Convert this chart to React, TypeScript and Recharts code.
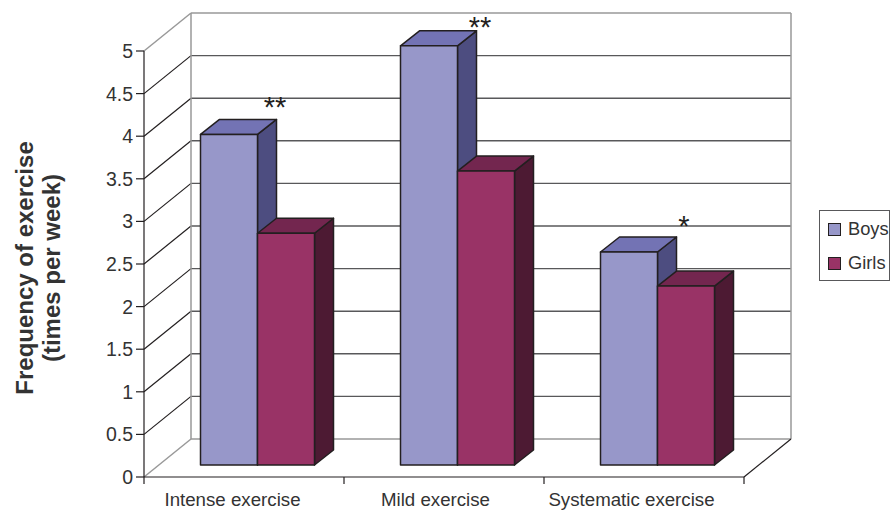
import { BarChart, Bar, XAxis, YAxis, CartesianGrid, Legend, LabelList, Customized } from "recharts";

const categories = ["Intense exercise", "Mild exercise", "Systematic exercise"];
const boys = [3.88, 4.92, 2.5];
const girls = [2.72, 3.45, 2.1];
const stars = ["**", "**", "*"];
const yTicks = [0, 0.5, 1, 1.5, 2, 2.5, 3, 3.5, 4, 4.5, 5];

const data = categories.map((name, i) => ({ name, boys: boys[i], girls: girls[i], star: stars[i] }));

const FONT = "'Liberation Sans', Arial, sans-serif";
const INK = "#231f20";
const TEXT = "#333333";
const WALL = "#999999";
const GRID = "#58585a";

const PLOT = { left: 144, right: 744, top: 51, bottom: 477 };
// depth of the back wall and of the boxes, in px
const WALL_DX = 47;
const WALL_DY = -38;
const BAR_SHIFT_X = 13.5;
const BAR_SHIFT_Y = -12;
const BOX_DX = 19;
const BOX_DY = -15;
const BAND = 200;
const STAR_NUDGE = [
  [31, -43],
  [36, -35],
  [40, -42],
];
const LABEL_NUDGE = [-11.5, -8.5, -12.5];

const BOYS_FACES = { front: "#9797c9", top: "#7373b4", side: "#4d4d80" };
const GIRLS_FACES = { front: "#993366", top: "#73264f", side: "#4d1a33" };

function box(faces: { front: string; top: string; side: string }) {
  return (props: any) => {
    const x = props.x + BAR_SHIFT_X;
    const y = props.y + BAR_SHIFT_Y;
    const w = props.width;
    const h = props.height;
    const line = { stroke: INK, strokeWidth: 1.5, strokeLinejoin: "round" as const };
    return (
      <g>
        <polygon
          points={`${x + w},${y} ${x + w + BOX_DX},${y + BOX_DY} ${x + w + BOX_DX},${y + h + BOX_DY} ${x + w},${y + h}`}
          fill={faces.side}
          {...line}
        />
        <polygon
          points={`${x},${y} ${x + BOX_DX},${y + BOX_DY} ${x + w + BOX_DX},${y + BOX_DY} ${x + w},${y}`}
          fill={faces.top}
          {...line}
        />
        <rect x={x} y={y} width={w} height={h} fill={faces.front} {...line} />
      </g>
    );
  };
}

// back wall line plus the diagonal running to the y axis
function gridLine(props: any) {
  const { x1, x2, y1 } = props;
  const edge = Math.abs(y1 - PLOT.top) < 1 || Math.abs(y1 - PLOT.bottom) < 1;
  return (
    <g key={props.key ?? y1}>
      <line x1={x1} y1={y1} x2={x1 + WALL_DX} y2={y1 + WALL_DY} stroke={edge ? WALL : INK} strokeWidth={edge ? 1.5 : 1.2} />
      <line x1={x1 + WALL_DX} y1={y1 + WALL_DY} x2={x2 + WALL_DX} y2={y1 + WALL_DY} stroke={edge ? WALL : GRID} strokeWidth={1.4} />
    </g>
  );
}

function Walls() {
  const bx = PLOT.left + WALL_DX;
  const rx = PLOT.right + WALL_DX;
  const ty = PLOT.top + WALL_DY;
  const by = PLOT.bottom + WALL_DY;
  return (
    <g>
      <line x1={bx} y1={ty} x2={bx} y2={by} stroke={WALL} strokeWidth={1.5} />
      <line x1={rx} y1={ty} x2={rx} y2={by} stroke={WALL} strokeWidth={1.5} />
      <line x1={PLOT.right} y1={PLOT.bottom} x2={rx} y2={by} stroke={INK} strokeWidth={1.2} />
    </g>
  );
}

function CategoryTick(props: any) {
  const { x, y, index, payload } = props;
  return (
    <g>
      <line x1={x - BAND / 2} y1={y - 8} x2={x - BAND / 2} y2={y - 1} stroke={INK} strokeWidth={1.2} />
      {index === categories.length - 1 && (
        <line x1={x + BAND / 2} y1={y - 8} x2={x + BAND / 2} y2={y - 1} stroke={INK} strokeWidth={1.2} />
      )}
      <text x={x + LABEL_NUDGE[index]} y={y + 21} textAnchor="middle" fontSize={18.7} fontFamily={FONT} fill={TEXT}>
        {payload.value}
      </text>
    </g>
  );
}

function StarLabel(props: any) {
  const { x, y, width, index, value } = props;
  return (
    <text
      x={x + width + STAR_NUDGE[index][0]}
      y={y + STAR_NUDGE[index][1] + 14}
      textAnchor="middle"
      fontSize={29}
      fontFamily={FONT}
      fill={INK}
    >
      {value}
    </text>
  );
}

function AxisTitle() {
  const cy = 268;
  const title = { textAnchor: "middle" as const, fontSize: 24, fontWeight: 700, fontFamily: FONT, fill: TEXT };
  return (
    <g>
      <text x={33} y={cy} transform={`rotate(-90 33 ${cy})`} {...title}>
        Frequency of exercise
      </text>
      <text x={60} y={cy} transform={`rotate(-90 60 ${cy})`} {...title}>
        (times per week)
      </text>
    </g>
  );
}

function LegendBox({ payload }: any) {
  return (
    <div
      style={{
        width: 71,
        height: 71,
        boxSizing: "border-box",
        border: "1.5px solid #58585a",
        background: "#fff",
        fontFamily: FONT,
        fontSize: 18.3,
        color: TEXT,
        paddingLeft: 8,
        paddingTop: 1,
      }}
    >
      {(payload ?? []).map((entry: any) => (
        <div key={entry.value} style={{ display: "flex", alignItems: "center", height: 34, whiteSpace: "nowrap" }}>
          <span
            style={{
              width: 13,
              height: 13,
              boxSizing: "border-box",
              border: `1.5px solid ${INK}`,
              background: entry.color,
              marginRight: 7,
            }}
          />
          {entry.value}
        </div>
      ))}
    </div>
  );
}

export default function App() {
  return (
    <div style={{ position: "absolute", left: 0, top: 0, width: 890, height: 510, overflow: "hidden" }}>
      <BarChart
        width={890}
        height={510}
        data={data}
        margin={{ top: PLOT.top, right: 890 - PLOT.right - 71, left: 84, bottom: 0 }}
        barSize={57}
        barGap={0}
        style={{ fontFamily: FONT }}
      >
        <CartesianGrid horizontal={gridLine} vertical={false} />
        <Customized component={Walls} />
        <XAxis
          dataKey="name"
          height={33}
          axisLine={{ stroke: INK, strokeWidth: 1.2 }}
          tickLine={false}
          tick={<CategoryTick />}
          interval={0}
        />
        <YAxis
          domain={[0, 5]}
          ticks={yTicks}
          width={60}
          axisLine={{ stroke: INK, strokeWidth: 1.2 }}
          tickLine={{ stroke: INK, strokeWidth: 1.2 }}
          tickSize={8}
          tickMargin={3}
          tick={{ fontSize: 19.5, fontFamily: FONT, fill: TEXT }}
          interval={0}
        />
        <Bar dataKey="boys" name="Boys" fill={BOYS_FACES.front} shape={box(BOYS_FACES)} isAnimationActive={false}>
          <LabelList dataKey="star" content={StarLabel} />
        </Bar>
        <Bar dataKey="girls" name="Girls" fill={GIRLS_FACES.front} shape={box(GIRLS_FACES)} isAnimationActive={false} />
        <Customized component={AxisTitle} />
        <Legend
          content={LegendBox}
          layout="vertical"
          align="right"
          verticalAlign="middle"
          wrapperStyle={{ position: "absolute", left: 819, top: 210, right: "auto", width: 71, bottom: "auto" }}
        />
      </BarChart>
    </div>
  );
}
